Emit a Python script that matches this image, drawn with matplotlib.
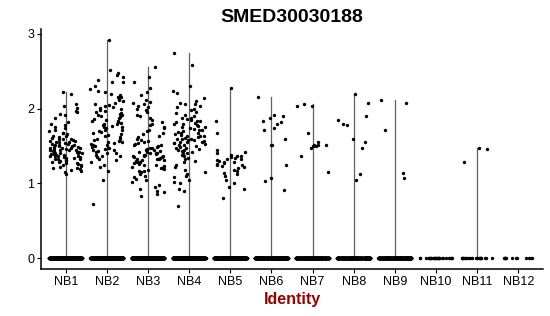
import numpy as np
import matplotlib
matplotlib.use('Agg')
import matplotlib.pyplot as plt

plt.rcParams['font.family'] = ['Liberation Sans', 'DejaVu Sans']

title = 'SMED30030188'
groups = ['NB1', 'NB2', 'NB3', 'NB4', 'NB5', 'NB6', 'NB7', 'NB8', 'NB9', 'NB10', 'NB11', 'NB12']

# non-zero expression values
nb1 = [2.22, 2.19, 2.06, 2.04, 2.01, 1.97, 1.95, 1.93, 1.92, 1.88, 1.82, 1.80, 1.78, 1.76, 1.74, 1.72,
       1.70, 1.68, 1.67, 1.66, 1.64, 1.63, 1.62, 1.61, 1.60, 1.60, 1.59, 1.58, 1.57, 1.57, 1.56, 1.55,
       1.55, 1.54, 1.53, 1.53, 1.52, 1.51, 1.51, 1.50, 1.50, 1.49, 1.49, 1.48, 1.48, 1.47, 1.47, 1.46,
       1.46, 1.45, 1.45, 1.44, 1.44, 1.43, 1.43, 1.42, 1.42, 1.41, 1.41, 1.40, 1.40, 1.39, 1.39, 1.38,
       1.38, 1.37, 1.37, 1.36, 1.36, 1.35, 1.35, 1.34, 1.34, 1.33, 1.32, 1.32, 1.31, 1.30, 1.30, 1.29,
       1.28, 1.27, 1.27, 1.26, 1.25, 1.24, 1.23, 1.22, 1.21, 1.20, 1.19, 1.18, 1.17, 1.15, 1.13]
nb2 = [2.92, 2.52, 2.48, 2.45, 2.42, 2.38, 2.36, 2.35, 2.30, 2.26, 2.24, 2.22, 2.20, 2.18, 2.16, 2.15,
       2.13, 2.11, 2.10, 2.08, 2.06, 2.05, 2.04, 2.02, 2.01, 2.00, 1.98, 1.97, 1.96, 1.94, 1.93, 1.92,
       1.91, 1.90, 1.89, 1.88, 1.86, 1.85, 1.84, 1.83, 1.82, 1.81, 1.80, 1.79, 1.78, 1.77, 1.76, 1.75,
       1.74, 1.72, 1.71, 1.70, 1.69, 1.67, 1.66, 1.65, 1.63, 1.62, 1.60, 1.59, 1.58, 1.57, 1.56, 1.55,
       1.54, 1.53, 1.52, 1.51, 1.50, 1.49, 1.48, 1.47, 1.46, 1.45, 1.44, 1.43, 1.42, 1.41, 1.40, 1.38,
       1.37, 1.36, 1.35, 1.33, 1.31, 1.28, 1.25, 1.22, 1.17, 1.04, 0.73]
nb3 = [2.56, 2.43, 2.36, 2.28, 2.22, 2.18, 2.12, 2.09, 2.08, 2.06, 2.04, 2.02, 2.00, 1.98, 1.95, 1.92,
       1.90, 1.88, 1.85, 1.82, 1.80, 1.78, 1.76, 1.74, 1.72, 1.70, 1.68, 1.66, 1.64, 1.62, 1.60, 1.58,
       1.57, 1.55, 1.54, 1.53, 1.52, 1.51, 1.50, 1.49, 1.48, 1.47, 1.46, 1.45, 1.44, 1.43, 1.42, 1.42,
       1.41, 1.40, 1.40, 1.39, 1.38, 1.38, 1.37, 1.36, 1.36, 1.35, 1.35, 1.34, 1.33, 1.33, 1.32, 1.31,
       1.31, 1.30, 1.29, 1.28, 1.28, 1.27, 1.26, 1.25, 1.24, 1.23, 1.22, 1.21, 1.20, 1.19, 1.18, 1.17,
       1.16, 1.15, 1.14, 1.12, 1.10, 1.08, 1.06, 1.04, 1.02, 0.98, 0.95, 0.92, 0.90, 0.88, 0.86, 0.83]
nb4 = [2.75, 2.59, 2.30, 2.24, 2.21, 2.14, 2.10, 2.08, 2.06, 2.06, 2.04, 2.02, 2.00, 1.98, 1.96, 1.94,
       1.92, 1.90, 1.88, 1.87, 1.86, 1.85, 1.84, 1.83, 1.82, 1.81, 1.80, 1.79, 1.78, 1.77, 1.76, 1.75,
       1.74, 1.73, 1.72, 1.71, 1.70, 1.69, 1.68, 1.67, 1.66, 1.65, 1.64, 1.63, 1.63, 1.62, 1.61, 1.60,
       1.60, 1.59, 1.58, 1.58, 1.57, 1.56, 1.56, 1.55, 1.54, 1.54, 1.53, 1.52, 1.51, 1.50, 1.49, 1.48,
       1.47, 1.46, 1.45, 1.44, 1.43, 1.42, 1.41, 1.40, 1.38, 1.36, 1.34, 1.32, 1.30, 1.28, 1.25, 1.22,
       1.18, 1.15, 1.12, 1.10, 1.08, 1.05, 1.02, 1.00, 0.92, 0.90, 0.70]
nb5 = [2.27, 1.83, 1.68, 1.44, 1.42, 1.40, 1.38, 1.37, 1.36, 1.35, 1.34, 1.33, 1.32, 1.31, 1.30, 1.29,
       1.28, 1.27, 1.26, 1.25, 1.24, 1.23, 1.22, 1.20, 1.18, 1.16, 1.14, 1.13, 1.10, 1.05, 1.00, 0.95,
       0.93, 0.80]
nb6 = [2.15, 1.92, 1.90, 1.87, 1.84, 1.82, 1.80, 1.74, 1.72, 1.59, 1.52, 1.52, 1.25, 1.07, 1.03, 0.91]
nb7 = [2.04, 2.06, 2.03, 1.68, 1.55, 1.52, 1.52, 1.52, 1.50, 1.50, 1.47, 1.37, 1.15]
nb8 = [2.20, 2.08, 1.90, 1.85, 1.80, 1.78, 1.59, 1.55, 1.48, 1.12, 1.04]
nb9 = [2.12, 2.08, 1.71, 1.14, 1.07]
nb10 = []
nb11 = [1.47, 1.46, 1.28]
nb12 = []
nonzero = [nb1, nb2, nb3, nb4, nb5, nb6, nb7, nb8, nb9, nb10, nb11, nb12]
zero_counts = [600, 600, 600, 600, 600, 500, 400, 400, 400, 25, 20, 12]

rng = np.random.default_rng(3)

fig = plt.figure(figsize=(5.5, 3.16), dpi=100)
ax = fig.add_axes([41/550, 1 - 269/316, 502/550, 240/316])

for i, (vals, nz) in enumerate(zip(nonzero, zero_counts)):
    pos = i + 1
    y = np.concatenate([np.zeros(nz), np.array(vals, dtype=float)])
    top = y.max()
    if top > 0:
        ax.plot([pos, pos], [0, top], color='#606060', lw=0.9, zorder=1)
    x = pos + rng.uniform(-0.4, 0.4, len(y))
    ax.scatter(x, y, s=6, color='black', linewidths=0, zorder=2)

ax.set_xlim(0.4, 12.6)
ax.set_ylim(-0.146, 3.066)
ax.set_xticks(range(1, 13))
ax.set_xticklabels(groups)
ax.set_yticks([0, 1, 2, 3])
ax.tick_params(labelsize=9, length=3, width=0.8, colors='black', pad=2)
for s in ['top', 'right']:
    ax.spines[s].set_visible(False)
for s in ['left', 'bottom']:
    ax.spines[s].set_linewidth(1.1)

ax.set_xlabel('Identity', fontsize=11.5, fontweight='bold', color='#990000', labelpad=3)
ax.set_title(title, fontsize=14, fontweight='bold', pad=5)

fig.savefig('out.png', dpi=100)
